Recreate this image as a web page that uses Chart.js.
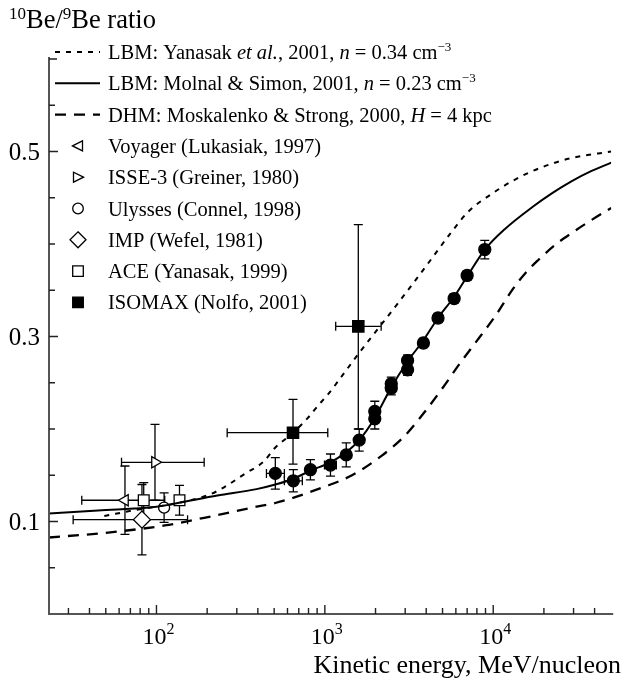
<!DOCTYPE html>
<html lang="en">
<head>
<meta charset="UTF-8">
<title>10Be/9Be ratio</title>
<script src="https://cdn.jsdelivr.net/npm/chart.js"></script>
<style>
    html, body {
        margin: 0;
        padding: 0;
        width: 100%;
        height: 100%;
        background-color: #fff;
        overflow: hidden;
    }
    #chartContainer {
        width: 621px;
        height: 679px;
        position: relative;
    }
</style>
</head>
<body>
<div id="chartContainer">
    <canvas id="beChart"></canvas>
</div>
<script>
    // model curves: kinetic energy (MeV/nucleon) -> 10Be/9Be
    const yanasakE = [49, 78, 134, 206, 252, 331, 434, 508, 630, 793, 918, 1050, 1320, 1550, 1980, 2590, 3300, 4260, 5600, 7110, 9950, 13900, 19500, 29300, 50200];
    const yanasakR = [0.106, 0.113, 0.120, 0.129, 0.137, 0.151, 0.165, 0.180, 0.194, 0.212, 0.226, 0.238, 0.262, 0.279, 0.304, 0.331, 0.356, 0.383, 0.412, 0.435, 0.455, 0.471, 0.483, 0.493, 0.500];

    const molnalE = [23, 45, 100, 134, 230, 393, 508, 647, 821, 1080, 1340, 1600, 1980, 2480, 3100, 3850, 4700, 5860, 7000, 8920, 11700, 17100, 22400, 29300, 38400, 50200];
    const molnalR = [0.1087, 0.112, 0.116, 0.120, 0.128, 0.135, 0.140, 0.146, 0.155, 0.164, 0.175, 0.188, 0.212, 0.245, 0.273, 0.296, 0.320, 0.343, 0.365, 0.394, 0.416, 0.440, 0.455, 0.468, 0.479, 0.488];

    const moskE = [23, 50, 112, 192, 393, 508, 1010, 1450, 2170, 2960, 3880, 5080, 6380, 8360, 10370, 13040, 15600, 18600, 23300, 29300, 38400, 50200];
    const moskR = [0.0827, 0.0878, 0.0957, 0.104, 0.116, 0.120, 0.138, 0.150, 0.171, 0.192, 0.2175, 0.246, 0.2716, 0.300, 0.323, 0.351, 0.369, 0.383, 0.399, 0.412, 0.426, 0.439];

    // measurements
    const dotsE = [508, 650, 821, 1080, 1340, 1600, 1980, 1980, 2480, 2480, 3100, 3100, 3850, 4700, 5860, 7000, 8910];
    const dotsR = [0.152, 0.144, 0.156, 0.161, 0.172, 0.188, 0.211, 0.219, 0.244, 0.249, 0.264, 0.274, 0.293, 0.320, 0.341, 0.366, 0.394];
    const dotsErr = [0.017, 0.012, 0.011, 0.012, 0.013, 0.012, 0.011, 0.011, 0.007, 0.007, 0.006, 0.006, 0.005, 0.005, 0.005, 0.005, 0.010];
    const dotsElo = [450, 575, null, 995, null, null, null, null, null, null, null, null, null, null, null, null, null];
    const dotsEhi = [575, 735, null, 1170, null, null, null, null, null, null, null, null, null, null, null, null, null];

    const voyagerE = [65], voyagerR = [0.123], voyagerErr = [0.037], voyagerElo = [36], voyagerEhi = [112];
    const isseE = [98], isseR = [0.164], isseErr = [0.041], isseElo = [62], isseEhi = [192];
    const ulyssesE = [111], ulyssesR = [0.115], ulyssesErr = [0.016];
    const impE = [82], impR = [0.102], impErr = [0.038], impElo = [32], impEhi = [153];
    const aceE = [84, 137], aceR = [0.123, 0.123], aceErr = [0.019, 0.016];
    const isomaxE = [647, 1580], isomaxR = [0.196, 0.311];
    const isomaxErrLo = [0.034, 0.111], isomaxErrHi = [0.036, 0.110];
    const isomaxElo = [263, 1160], isomaxEhi = [1041, 2160];

    // axis ticks
    const xMajor = [100, 1000, 10000];
    const xMajorExp = ['2', '3', '4'];
    const xMinor = [30, 40, 50, 60, 70, 80, 90, 200, 300, 400, 500, 600, 700, 800, 900,
                    2000, 3000, 4000, 5000, 6000, 7000, 8000, 9000, 20000, 30000, 40000];
    const yLabels = [0.1, 0.3, 0.5];
    const yMinor = [0.05, 0.15, 0.2, 0.25, 0.35, 0.4, 0.45, 0.55, 0.6];

    const serif = '"Liberation Serif", "DejaVu Serif", serif';

    const pts = (xs, ys) => xs.map((v, i) => ({ x: v, y: ys[i] }));

    function curve(label, xs, ys, dash, width) {
        return {
            label: label, data: pts(xs, ys), showLine: true, pointRadius: 0,
            borderColor: '#000', borderWidth: width, borderDash: dash,
            cubicInterpolationMode: 'monotone', fill: false
        };
    }
    function marks(label, xs, ys, style, r, fill, rot) {
        return {
            label: label, data: pts(xs, ys), showLine: false,
            pointStyle: style, pointRadius: r, pointRotation: rot || 0,
            pointBackgroundColor: fill, pointBorderColor: '#000', pointBorderWidth: 1.3
        };
    }

    function errBars(chart, E, R, lo, hi, eLo, eHi) {
        const ctx = chart.ctx, xs = chart.scales.x, ys = chart.scales.y;
        ctx.save();
        ctx.strokeStyle = '#000';
        ctx.lineWidth = 1.3;
        for (let i = 0; i < E.length; i++) {
            const px = xs.getPixelForValue(E[i]);
            const py = ys.getPixelForValue(R[i]);
            ctx.beginPath();
            if (lo && lo[i]) {
                const a = ys.getPixelForValue(R[i] - lo[i]);
                const b = ys.getPixelForValue(R[i] + hi[i]);
                ctx.moveTo(px, a); ctx.lineTo(px, b);
                ctx.moveTo(px - 4.5, a); ctx.lineTo(px + 4.5, a);
                ctx.moveTo(px - 4.5, b); ctx.lineTo(px + 4.5, b);
            }
            if (eLo && eLo[i]) {
                const a = xs.getPixelForValue(eLo[i]);
                const b = xs.getPixelForValue(eHi[i]);
                ctx.moveTo(a, py); ctx.lineTo(b, py);
                ctx.moveTo(a, py - 4.5); ctx.lineTo(a, py + 4.5);
                ctx.moveTo(b, py - 4.5); ctx.lineTo(b, py + 4.5);
            }
            ctx.stroke();
        }
        ctx.restore();
    }

    // text with super/italic runs: [text, font, dy]
    function textRuns(ctx, x, y, parts, align) {
        let w = 0;
        parts.forEach(p => { ctx.font = p[1]; w += ctx.measureText(p[0]).width; });
        let cx = align === 'center' ? x - w / 2 : align === 'right' ? x - w : x;
        parts.forEach(p => {
            ctx.font = p[1];
            ctx.fillText(p[0], cx, y + (p[2] || 0));
            cx += ctx.measureText(p[0]).width;
        });
    }

    function legendMarker(ctx, kind, x, y) {
        ctx.save();
        ctx.strokeStyle = '#000';
        ctx.lineWidth = 1.3;
        ctx.fillStyle = '#fff';
        ctx.beginPath();
        if (kind === 'left') {
            ctx.moveTo(x - 5.5, y); ctx.lineTo(x + 4.5, y - 5); ctx.lineTo(x + 4.5, y + 5); ctx.closePath();
        } else if (kind === 'right') {
            ctx.moveTo(x + 5.5, y); ctx.lineTo(x - 4.5, y - 5); ctx.lineTo(x - 4.5, y + 5); ctx.closePath();
        } else if (kind === 'circle') {
            ctx.arc(x, y, 5.3, 0, Math.PI * 2);
        } else if (kind === 'diamond') {
            ctx.moveTo(x, y - 8); ctx.lineTo(x + 8, y); ctx.lineTo(x, y + 8); ctx.lineTo(x - 8, y); ctx.closePath();
        } else {
            ctx.rect(x - 5.3, y - 5.3, 10.6, 10.6);
            if (kind === 'fsquare') ctx.fillStyle = '#000';
        }
        ctx.fill();
        ctx.stroke();
        ctx.restore();
    }

    const paperPlugin = {
        id: 'paperAxes',
        beforeDatasetsDraw(chart) {
            errBars(chart, dotsE, dotsR, dotsErr, dotsErr, dotsElo, dotsEhi);
            errBars(chart, voyagerE, voyagerR, voyagerErr, voyagerErr, voyagerElo, voyagerEhi);
            errBars(chart, isseE, isseR, isseErr, isseErr, isseElo, isseEhi);
            errBars(chart, ulyssesE, ulyssesR, ulyssesErr, ulyssesErr);
            errBars(chart, impE, impR, impErr, impErr, impElo, impEhi);
            errBars(chart, aceE, aceR, aceErr, aceErr);
            errBars(chart, isomaxE, isomaxR, isomaxErrLo, isomaxErrHi, isomaxElo, isomaxEhi);
        },
        afterDraw(chart) {
            const ctx = chart.ctx, a = chart.chartArea;
            const xs = chart.scales.x, ys = chart.scales.y;
            ctx.save();
            // spines
            ctx.strokeStyle = '#555';
            ctx.lineWidth = 2;
            ctx.beginPath();
            ctx.moveTo(a.left, a.top - 2);
            ctx.lineTo(a.left, a.bottom);
            ctx.lineTo(a.right + 2, a.bottom);
            ctx.stroke();
            // inward ticks
            ctx.strokeStyle = '#222';
            ctx.lineWidth = 1.4;
            ctx.beginPath();
            xMajor.forEach(v => { const p = xs.getPixelForValue(v); ctx.moveTo(p, a.bottom); ctx.lineTo(p, a.bottom - 9); });
            xMinor.forEach(v => { const p = xs.getPixelForValue(v); ctx.moveTo(p, a.bottom); ctx.lineTo(p, a.bottom - 6); });
            yLabels.forEach(v => { const p = ys.getPixelForValue(v); ctx.moveTo(a.left, p); ctx.lineTo(a.left + 9, p); });
            yMinor.forEach(v => { const p = ys.getPixelForValue(v); ctx.moveTo(a.left, p); ctx.lineTo(a.left + (v === 0.6 ? 8 : 6), p); });
            ctx.stroke();

            ctx.fillStyle = '#000';
            ctx.textBaseline = 'alphabetic';
            // y labels
            ctx.font = '25px ' + serif;
            ctx.textAlign = 'right';
            yLabels.forEach(v => {
                ctx.fillText(v.toFixed(1), 40, ys.getPixelForValue(v) + 8);
            });
            ctx.textAlign = 'left';
            // x labels
            xMajor.forEach((v, i) => {
                textRuns(ctx, xs.getPixelForValue(v) + 2, 644, [
                    ['10', '24px ' + serif, 0],
                    [xMajorExp[i], '16px ' + serif, -10]
                ], 'center');
            });
            // axis titles
            textRuns(ctx, 621, 673, [['Kinetic energy, MeV/nucleon', '26px ' + serif, 0]], 'right');
            textRuns(ctx, 9, 28, [
                ['10', '17px ' + serif, -9],
                ['Be/', '26.5px ' + serif, 0],
                ['9', '17px ' + serif, -9],
                ['Be ratio', '26.5px ' + serif, 0]
            ], 'left');

            // legend
            const f = '20.5px ' + serif, fi = 'italic 20.5px ' + serif, fs = '13px ' + serif;
            const rowY = i => 52 + 31.3 * i;
            const tx = 108;
            const lineRows = [
                { dash: [5, 6], w: 2, parts: [['LBM: Yanasak ', f], ['et al.', fi], [', 2001, ', f], ['n', fi], [' = 0.34 cm', f], ['\u22123', fs, -8]] },
                { dash: [], w: 2, parts: [['LBM: Molnal & Simon, 2001, ', f], ['n', fi], [' = 0.23 cm', f], ['\u22123', fs, -8]] },
                { dash: [11, 8], w: 2.3, parts: [['DHM: Moskalenko & Strong, 2000, ', f], ['H', fi], [' = 4 kpc', f]] }
            ];
            lineRows.forEach((r, i) => {
                const y = rowY(i);
                ctx.save();
                ctx.strokeStyle = '#000';
                ctx.lineWidth = r.w;
                ctx.setLineDash(r.dash);
                ctx.beginPath();
                ctx.moveTo(55, y); ctx.lineTo(100, y);
                ctx.stroke();
                ctx.restore();
                textRuns(ctx, tx, y + 7, r.parts, 'left');
            });
            const markRows = [
                ['left', 'Voyager (Lukasiak, 1997)'],
                ['right', 'ISSE-3 (Greiner, 1980)'],
                ['circle', 'Ulysses (Connel, 1998)'],
                ['diamond', 'IMP (Wefel, 1981)'],
                ['square', 'ACE (Yanasak, 1999)'],
                ['fsquare', 'ISOMAX (Nolfo, 2001)']
            ];
            markRows.forEach((m, i) => {
                const y = rowY(i + 3);
                legendMarker(ctx, m[0], 78, y);
                ctx.fillStyle = '#000';
                textRuns(ctx, tx, y + 7, [[m[1], f]], 'left');
            });
            ctx.restore();
        }
    };

    const ctx = document.getElementById('beChart');
    new Chart(ctx, {
        type: 'scatter',
        data: {
            datasets: [
                curve('LBM: Yanasak et al., 2001', yanasakE, yanasakR, [5, 6], 2),
                curve('LBM: Molnal & Simon, 2001', molnalE, molnalR, [], 2),
                curve('DHM: Moskalenko & Strong, 2000', moskE, moskR, [11, 8], 2.3),
                marks('data', dotsE, dotsR, 'circle', 6, '#000'),
                marks('Voyager (Lukasiak, 1997)', voyagerE, voyagerR, 'triangle', 6.5, '#fff', -90),
                marks('ISSE-3 (Greiner, 1980)', isseE, isseR, 'triangle', 6.5, '#fff', 90),
                marks('Ulysses (Connel, 1998)', ulyssesE, ulyssesR, 'circle', 5.5, '#fff'),
                marks('IMP (Wefel, 1981)', impE, impR, 'rectRot', 8.5, '#fff'),
                marks('ACE (Yanasak, 1999)', aceE, aceR, 'rect', 7.6, '#fff'),
                marks('ISOMAX (Nolfo, 2001)', isomaxE, isomaxR, 'rect', 8, '#000')
            ]
        },
        options: {
            responsive: true,
            maintainAspectRatio: false,
            animation: false,
            devicePixelRatio: 1,
            layout: { padding: { top: 59, right: 1, left: 0, bottom: 0 } },
            plugins: {
                legend: { display: false },
                tooltip: { enabled: false },
                title: { display: false }
            },
            scales: {
                x: {
                    type: 'logarithmic',
                    min: 23,
                    max: 50200,
                    ticks: { display: false },
                    grid: { display: false },
                    border: { display: false },
                    afterFit(s) { s.height = 65; }
                },
                y: {
                    type: 'linear',
                    min: 0,
                    max: 0.6,
                    ticks: { display: false },
                    grid: { display: false },
                    border: { display: false },
                    afterFit(s) { s.width = 49; }
                }
            }
        },
        plugins: [paperPlugin]
    });
</script>
</body>
</html>
